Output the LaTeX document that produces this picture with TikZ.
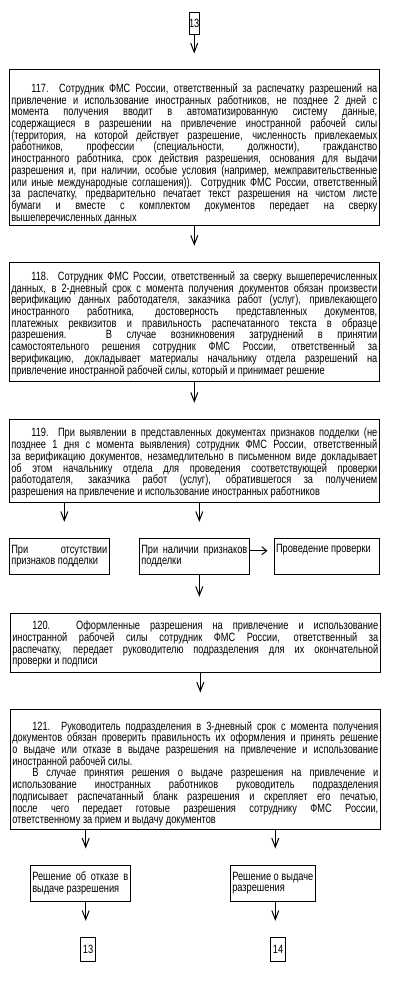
\documentclass[tikz,border=0pt]{standalone}
\usepackage{fontspec}
\setmainfont{Liberation Sans}[FakeStretch=0.77]
\usetikzlibrary{arrows.meta}
\hyphenpenalty=10000
\exhyphenpenalty=10000
\tolerance=10000
\hbadness=10000

\begin{document}
\begin{tikzpicture}[x=1pt, y=-1pt, line width=1pt,
  font=\fontsize{12}{11.7}\selectfont,
  bigbox/.style={draw, rectangle, inner xsep=2pt, inner ysep=0pt, text width=366pt, align=justify},
  smallbox/.style={draw, rectangle, inner xsep=2pt, inner ysep=0pt, align=justify},
  numbox/.style={draw, rectangle, inner sep=0pt},
  flow/.style={-{Straight Barb[length=9pt, width=7pt, sep=9pt]}, shorten >=7pt},
  sideflow/.style={-{Straight Barb[length=5pt, width=8pt, sep=5pt]}, shorten >=1pt}
]
  \useasboundingbox (0,0) rectangle (412,984);
  \node[numbox, minimum width=10pt, minimum height=22pt] (top13) at (194.2,23.3) {13};
  \node[bigbox, minimum height=156pt] (b117) at (194.3,148) {%
    \rule{0pt}{20pt}\hspace*{20pt}117. Сотрудник ФМС России, ответственный за распечатку разрешений на\linebreak
    привлечение и использование иностранных работников, не позднее 2 дней с\linebreak
    момента получения вводит в автоматизированную систему данные,\linebreak
    содержащиеся в разрешении на привлечение иностранной рабочей силы\linebreak
    (территория, на которой действует разрешение, численность привлекаемых\linebreak
    работников, профессии (специальности, должности), гражданство\linebreak
    иностранного работника, срок действия разрешения, основания для выдачи\linebreak
    разрешения и, при наличии, особые условия (например, межправительственные\linebreak
    или иные международные соглашения)). Сотрудник ФМС России, ответственный\linebreak
    за распечатку, предварительно печатает текст разрешения на чистом листе\linebreak
    бумаги и вместе с комплектом документов передает на сверку\linebreak
    вышеперечисленных данных};
  \node[bigbox, minimum height=119.4pt] (b118) at (194.3,322) {%
    \rule{0pt}{13pt}\hspace*{20pt}118. Сотрудник ФМС России, ответственный за сверку вышеперечисленных\linebreak
    данных, в 2-дневный срок с момента получения документов обязан произвести\linebreak
    верификацию данных работодателя, заказчика работ (услуг), привлекающего\linebreak
    иностранного работника, достоверность представленных документов,\linebreak
    платежных реквизитов и правильность распечатанного текста в образце\linebreak
    разрешения. В случае возникновения затруднений в принятии\linebreak
    самостоятельного решения сотрудник ФМС России, ответственный за\linebreak
    верификацию, докладывает материалы начальнику отдела разрешений на\linebreak
    привлечение иностранной рабочей силы, который и принимает решение};
  \node[bigbox, minimum height=83.2pt] (b119) at (194.3,460.9) {%
    \rule{0pt}{13pt}\hspace*{20pt}119. При выявлении в представленных документах признаков подделки (не\linebreak
    позднее 1 дня с момента выявления) сотрудник ФМС России, ответственный\linebreak
    за верификацию документов, незамедлительно в письменном виде докладывает\linebreak
    об этом начальнику отдела для проведения соответствующей проверки\linebreak
    работодателя, заказчика работ (услуг), обратившегося за получением\linebreak
    разрешения на привлечение и использование иностранных работников};
  \node[smallbox, text width=96pt, minimum height=35.7pt] (absent) at (59.3,556.2)
    {При отсутствии\linebreak признаков подделки};
  \node[smallbox, text width=106pt, minimum height=35.7pt] (found) at (194.3,556.2)
    {При наличии признаков\linebreak подделки};
  \node[smallbox, text width=101.3pt, minimum height=35.7pt] (check) at (326.7,556.2)
    {Проведение проверки\newline\strut};
  \node[bigbox, minimum height=59.4pt] (b120) at (195.3,643) {%
    \rule{0pt}{11pt}\hspace*{20pt}120. Оформленные разрешения на привлечение и использование\linebreak
    иностранной рабочей силы сотрудник ФМС России, ответственный за\linebreak
    распечатку, передает руководителю подразделения для их окончательной\linebreak
    проверки и подписи};
  \node[bigbox, minimum height=120.3pt] (b121) at (195.3,769.2) {%
    \rule{0pt}{18pt}\hspace*{20pt}121. Руководитель подразделения в 3-дневный срок с момента получения\linebreak
    документов обязан проверить правильность их оформления и принять решение\linebreak
    о выдаче или отказе в выдаче разрешения на привлечение и использование\linebreak
    иностранной рабочей силы.\par
    \hspace*{20pt}В случае принятия решения о выдаче разрешения на привлечение и\linebreak
    использование иностранных работников руководитель подразделения\linebreak
    подписывает распечатанный бланк разрешения и скрепляет его печатью,\linebreak
    после чего передает готовые разрешения сотруднику ФМС России,\linebreak
    ответственному за прием и выдачу документов};
  \node[smallbox, text width=96pt, minimum height=36pt] (refuse) at (80.3,883)
    {Решение об отказе в\linebreak выдаче разрешения};
  \node[smallbox, text width=81pt, minimum height=36pt] (issue) at (272.8,883)
    {Решение о выдаче\linebreak разрешения};
  \node[numbox, minimum width=15.4pt, minimum height=23.7pt] (fin13) at (88,949.2) {13};
  \node[numbox, minimum width=15.4pt, minimum height=23.7pt] (fin14) at (278,949.2) {14};

  \draw[flow] (top13) -- (top13 |- b117.north);
  \draw[flow] (b117) -- (b118);
  \draw[flow] (b118) -- (b119);
  \draw[flow] ([xshift=5pt]absent.north |- b119.south) -- ([xshift=5pt]absent.north);
  \draw[flow] ([xshift=5pt]found.north |- b119.south) -- ([xshift=5pt]found.north);
  \draw[sideflow] ([yshift=5.5pt]found.east) -- ([yshift=5.5pt]check.west);
  \draw[flow] ([xshift=5pt]found.south) -- ([xshift=5pt]found.south |- b120.north);
  \draw[flow] ([xshift=5pt]b120.south) -- ([xshift=5pt]b120.south |- b121.north);
  \draw[flow] ([xshift=5.4pt]refuse.north |- b121.south) -- ([xshift=5.4pt]refuse.north);
  \draw[flow] ([xshift=2.5pt]issue.north |- b121.south) -- ([xshift=2.5pt]issue.north);
  \draw[flow] ([xshift=5.4pt]refuse.south) -- ([xshift=5.4pt]refuse.south |- fin13.north);
  \draw[flow] ([xshift=2.5pt]issue.south) -- ([xshift=2.5pt]issue.south |- fin14.north);
\end{tikzpicture}
\end{document}
